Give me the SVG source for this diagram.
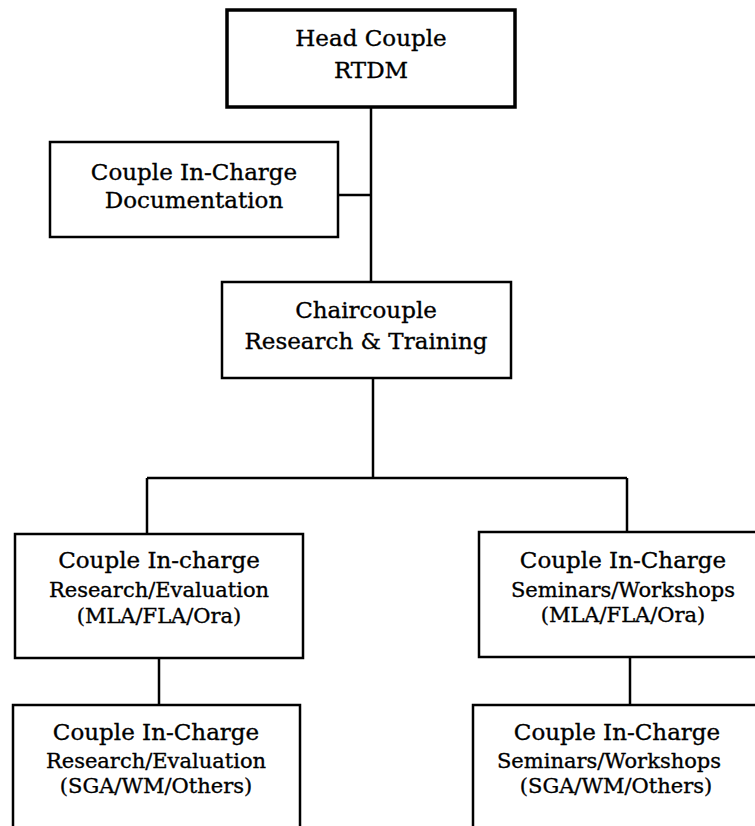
<svg xmlns="http://www.w3.org/2000/svg" width="755" height="826" viewBox="0 0 755 826">
<style>
.box{fill:#fff;stroke:#000;stroke-width:2.5}
.thick{stroke-width:3.5}
.t{font-family:"DejaVu Serif","Liberation Serif",serif;font-size:23px;fill:#000;stroke:#000;stroke-width:0.35;text-anchor:middle}
.s{font-size:21px}
.c{stroke:#000;stroke-width:2.5;fill:none}
</style>
<rect width="755" height="826" fill="#fff"/>
<g id="connectors">
<line class="c" x1="371" y1="107" x2="371" y2="282"/>
<line class="c" x1="338" y1="195" x2="371" y2="195"/>
<line class="c" x1="373" y1="378" x2="373" y2="478"/>
<line class="c" x1="147" y1="478" x2="627" y2="478"/>
<line class="c" x1="147" y1="478" x2="147" y2="534"/>
<line class="c" x1="627" y1="478" x2="627" y2="532"/>
<line class="c" x1="159" y1="658" x2="159" y2="705"/>
<line class="c" x1="630" y1="657" x2="630" y2="705"/>
</g>
<g id="head">
<rect class="box thick" x="227" y="10" width="288" height="97"/>
<text class="t" x="371" y="46">Head Couple</text>
<text class="t" x="371" y="78">RTDM</text>
</g>
<g id="documentation">
<rect class="box" x="50" y="142" width="288" height="95"/>
<text class="t" x="194" y="180">Couple In-Charge</text>
<text class="t" x="194" y="208">Documentation</text>
</g>
<g id="chair">
<rect class="box" x="222" y="282" width="289" height="96"/>
<text class="t" x="366" y="318">Chaircouple</text>
<text class="t" x="366" y="349">Research &amp; Training</text>
</g>
<g id="research-mla">
<rect class="box" x="15" y="534" width="288" height="124"/>
<text class="t" x="159" y="568">Couple In-charge</text>
<text class="t s" x="159" y="597">Research/Evaluation</text>
<text class="t s" x="159" y="623">(MLA/FLA/Ora)</text>
</g>
<g id="seminars-mla">
<rect class="box" x="479" y="532" width="292" height="125"/>
<text class="t" x="623" y="568">Couple In-Charge</text>
<text class="t s" x="623" y="597">Seminars/Workshops</text>
<text class="t s" x="623" y="622">(MLA/FLA/Ora)</text>
</g>
<g id="research-sga">
<rect class="box" x="13" y="705" width="287" height="130"/>
<text class="t" x="156" y="740">Couple In-Charge</text>
<text class="t s" x="156" y="768">Research/Evaluation</text>
<text class="t s" x="156" y="793">(SGA/WM/Others)</text>
</g>
<g id="seminars-sga">
<rect class="box" x="473" y="705" width="298" height="130"/>
<text class="t" x="617" y="740">Couple In-Charge</text>
<text class="t s" x="609" y="768">Seminars/Workshops</text>
<text class="t s" x="616" y="793">(SGA/WM/Others)</text>
</g>
</svg>
